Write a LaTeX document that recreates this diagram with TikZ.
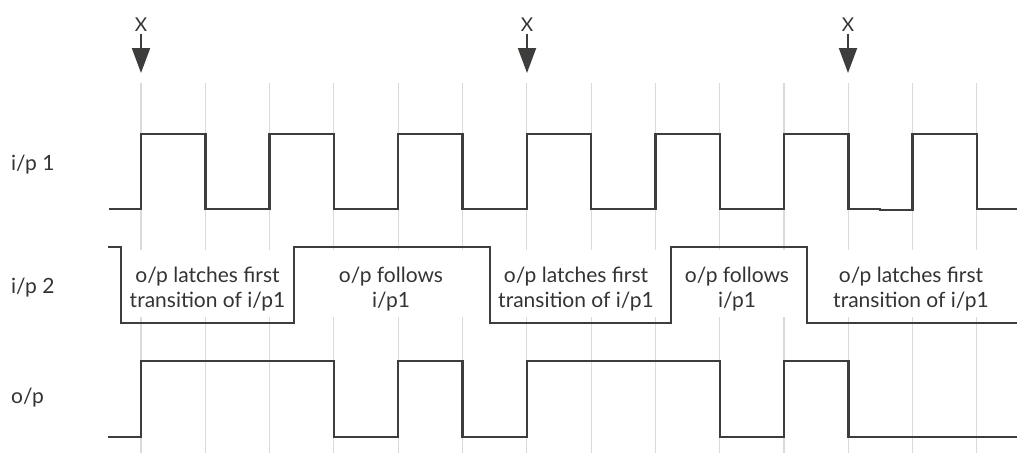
\documentclass[tikz,border=0pt]{standalone}
\usepackage{fontspec}
\setmainfont{Lato}
\usetikzlibrary{arrows.meta}
\definecolor{sig}{HTML}{3D3D3B}
\definecolor{gridc}{HTML}{DADADA}
\definecolor{txt}{HTML}{333333}
\tikzset{
  signal/.style={draw=sig, line width=2.4pt, line join=miter},
  gridline/.style={draw=gridc, line width=1.1pt},
  marker/.style={draw=sig, line width=2pt, -{Triangle[length=25pt,width=18pt]}},
  xlab/.style={text=txt, font=\fontsize{19}{21}\selectfont, inner sep=2pt},
  rowlab/.style={text=txt, font=\fontsize{21}{24}\selectfont, inner sep=0pt, anchor=base west},
  note/.style={text=txt, font=\fontsize{21}{25}\selectfont, align=center, inner sep=0pt}
}
\begin{document}
\begin{tikzpicture}[x=1pt,y=-1pt]
\useasboundingbox (0,0) rectangle (1017,455);
% grid
\foreach \k in {0,...,13}{
  \pgfmathsetmacro{\gx}{141+64.3*\k}
  \draw[gridline] (\gx,83) -- (\gx,250);
  \draw[gridline] (\gx,317) -- (\gx,453);
}
% markers
\foreach \i/\mx in {1/141,2/527,3/848}{
  \node[xlab] (x\i) at (\mx,24.5) {X};
  \coordinate (t\i) at (\mx,73);
  \draw[marker] (x\i) -- (t\i);
}
% row labels
\node[rowlab] (l1) at (11,170) {i/p 1};
\node[rowlab] (l2) at (11,293) {i/p 2};
\node[rowlab] (l3) at (11,403) {o/p};
% i/p 1
\draw[signal] (109,209) -- (141,209) -- (141,134) -- (205.3,134) -- (205.3,209)
  -- (269.6,209) -- (269.6,134) -- (333.9,134) -- (333.9,209)
  -- (398.2,209) -- (398.2,134) -- (462.5,134) -- (462.5,209)
  -- (526.8,209) -- (526.8,134) -- (591.1,134) -- (591.1,209)
  -- (655.4,209) -- (655.4,134) -- (719.7,134) -- (719.7,209)
  -- (784,209) -- (784,134) -- (848.3,134) -- (848.3,209)
  -- (880,209) -- (880,210) -- (912.6,210) -- (912.6,134) -- (976.9,134) -- (976.9,209)
  -- (1017,209);
% i/p 2
\draw[signal] (108,247) -- (121,247) -- (121,323) -- (294,323) -- (294,247)
  -- (490,247) -- (490,323) -- (671,323) -- (671,247)
  -- (807,247) -- (807,323) -- (1017,323);
% o/p
\draw[signal] (108,437) -- (141,437) -- (141,361) -- (333.9,361) -- (333.9,437)
  -- (398.2,437) -- (398.2,361) -- (462.5,361) -- (462.5,437)
  -- (526.8,437) -- (526.8,361) -- (719.7,361) -- (719.7,437)
  -- (784,437) -- (784,361) -- (848.3,361) -- (848.3,437) -- (1017,437);
% notes
\node[note] (n1) at (207.5,289) {o/p latches first\\transition of i/p1};
\node[note] (n2) at (391,289) {o/p follows\\i/p1};
\node[note] (n3) at (576,289) {o/p latches first\\transition of i/p1};
\node[note] (n4) at (737,289) {o/p follows\\i/p1};
\node[note] (n5) at (911,289) {o/p latches first\\transition of i/p1};
\end{tikzpicture}
\end{document}
